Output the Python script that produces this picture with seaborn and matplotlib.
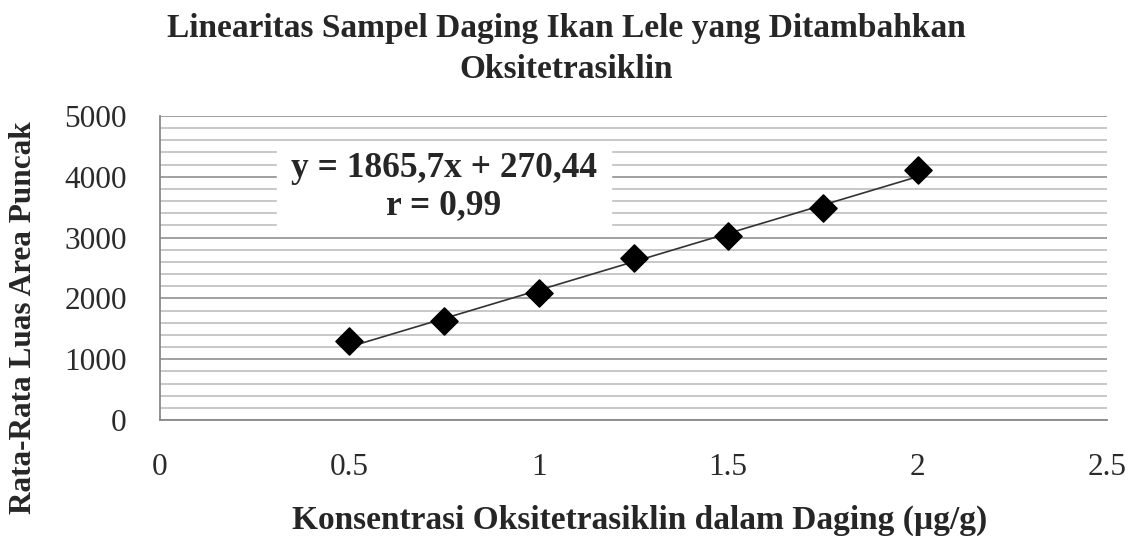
import numpy as np
import pandas as pd
import matplotlib
matplotlib.use("Agg")
import matplotlib.pyplot as plt
from matplotlib.ticker import MultipleLocator
import seaborn as sns

# data
konsentrasi = [0.5, 0.75, 1.0, 1.25, 1.5, 1.75, 2.0]
luas_area = [1304, 1633, 2084, 2659, 3026, 3492, 4112]
# trendline as printed on the chart
slope = 1865.7
intercept = 270.44
trend_x = [0.5, 2.0]

data = pd.DataFrame({"x": konsentrasi, "y": luas_area})
trend = pd.DataFrame({"x": trend_x, "y": [slope * v + intercept for v in trend_x]})

sns.set_style("white")
plt.rcParams['font.family'] = ['Liberation Serif', 'DejaVu Serif']

fig = plt.figure(figsize=(11.29, 5.36), dpi=100)
ax = fig.add_axes([160/1129, 1 - 420/536, (1107-160)/1129, (420-116)/536])

ax.set_xlim(0, 2.5)
ax.set_ylim(0, 5000)
ax.xaxis.set_major_locator(MultipleLocator(0.5))
ax.yaxis.set_major_locator(MultipleLocator(1000))
ax.yaxis.set_minor_locator(MultipleLocator(200))
ax.grid(True, which="major", axis="y", color="#999999", lw=1.3)
ax.grid(True, which="minor", axis="y", color="#c4c4c4", lw=1.3)
ax.set_axisbelow(True)

# white box behind the equation
ax.fill_between([0.31, 1.19], 3100, 4470, color="white", zorder=1.5)

sns.lineplot(data=trend, x="x", y="y", color="#333333", lw=1.2, ax=ax, zorder=3)
sns.scatterplot(data=data, x="x", y="y", marker="D", s=190, color="black",
                edgecolor="black", ax=ax, zorder=4)

ax.text(0.75, 4140, "y = 1865,7x + 270,44", ha="center", va="center",
        fontsize=25.5, fontweight="bold", zorder=5)
ax.text(0.75, 3520, "r = 0,99", ha="center", va="center",
        fontsize=25.5, fontweight="bold", zorder=5)

for s in ["top", "right"]:
    ax.spines[s].set_visible(False)
for s in ["left", "bottom"]:
    ax.spines[s].set_color("#888888")
    ax.spines[s].set_linewidth(1.3)

ax.tick_params(axis="both", which="major", direction="out", length=10,
               color="#888888", width=1.3, labelsize=22.5, labelcolor="#2a2a2a")
ax.tick_params(axis="y", which="major", pad=14)
ax.tick_params(axis="x", which="major", pad=14)
ax.tick_params(axis="y", which="minor", length=0)
ax.set_xticks([0, 0.5, 1, 1.5, 2, 2.5])
ax.set_xticklabels(["0", "0.5", "1", "1.5", "2", "2.5"])
ax.set_xlabel("")
ax.set_ylabel("")

fig.text(566/1129, 1 - 29/536, "Linearitas Sampel Daging Ikan Lele yang Ditambahkan",
         ha="center", va="center", fontsize=24, fontweight="bold")
fig.text(566/1129, 1 - 69/536, "Oksitetrasiklin",
         ha="center", va="center", fontsize=24, fontweight="bold")
fig.text(640/1129, 1 - 520/536, "Konsentrasi Oksitetrasiklin dalam Daging (µg/g)",
         ha="center", va="center", fontsize=24, fontweight="bold")
fig.text(24/1129, 1 - 318/536, "Rata-Rata Luas Area Puncak", rotation=90,
         ha="center", va="center", fontsize=22.5, fontweight="bold")

fig.savefig("out.png", dpi=100)
